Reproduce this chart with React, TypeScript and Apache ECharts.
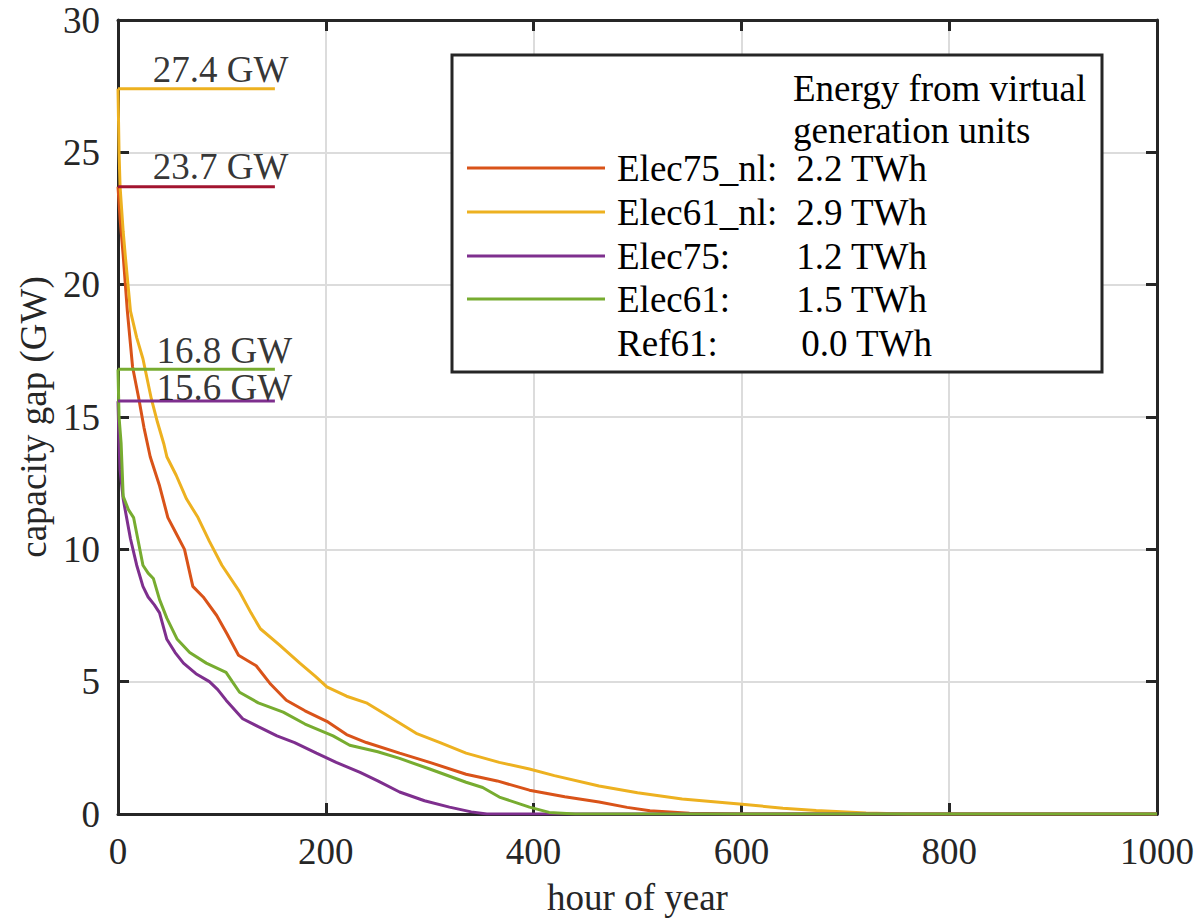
import React, { useEffect, useRef } from "react";
import * as echarts from "echarts";

const FONT = "Liberation Serif";
const FS = 37;

const seriesNames = ["Elec75_nl", "Elec61_nl", "Elec75", "Elec61"];
const seriesColors = ["#D95319", "#EDB120", "#7E2F8E", "#77AC30"];
const legendNames = ["Elec75_nl:", "Elec61_nl:", "Elec75:", "Elec61:", "Ref61:"];
const energyTWh = ["2.2 TWh", "2.9 TWh", "1.2 TWh", "1.5 TWh", "0.0 TWh"];
const xTicks = [0, 200, 400, 600, 800, 1000];
const yTicks = [0, 5, 10, 15, 20, 25, 30];

const elec75nl: [number, number][] = [
  [0, 23.7], [2, 22.5], [5, 21.1], [9, 19], [14, 16.9], [20, 15.7], [25, 14.6], [31, 13.5],
  [40, 12.4], [48, 11.2], [56, 10.6], [64, 10.0], [72, 8.6], [82, 8.2], [95, 7.5], [105, 6.8],
  [116, 6.0], [133, 5.6], [147, 4.9], [162, 4.3], [180, 3.9], [201, 3.5], [220, 3.0], [239, 2.7],
  [271, 2.3], [300, 1.95], [335, 1.5], [365, 1.25], [396, 0.9], [430, 0.65], [463, 0.45],
  [490, 0.25], [512, 0.12], [550, 0.03], [600, 0], [1000, 0],
];
const elec61nl: [number, number][] = [
  [0, 27.4], [1, 25], [2, 23.7], [5, 22], [7, 21.1], [12, 19], [18, 18], [24, 17.2], [32, 15.7],
  [38, 14.8], [44, 14.0], [47, 13.5], [56, 12.8], [66, 11.9], [77, 11.2], [88, 10.3], [100, 9.4],
  [117, 8.4], [128, 7.6], [137, 7.0], [155, 6.4], [175, 5.7], [190, 5.2], [201, 4.8], [220, 4.45],
  [239, 4.2], [260, 3.7], [287, 3.05], [310, 2.7], [335, 2.3], [367, 1.95], [396, 1.7], [420, 1.45],
  [463, 1.06], [500, 0.8], [543, 0.57], [598, 0.38], [640, 0.22], [672, 0.13], [720, 0.04],
  [760, 0], [1000, 0],
];
const elec75: [number, number][] = [
  [0, 15.6], [1, 14], [2, 13], [5, 11.9], [12, 10.4], [18, 9.4], [24, 8.6], [29, 8.2], [35, 7.9],
  [40, 7.6], [47, 6.6], [55, 6.1], [63, 5.7], [75, 5.3], [88, 5.0], [96, 4.7], [104, 4.3],
  [120, 3.6], [135, 3.3], [153, 2.95], [170, 2.7], [191, 2.3], [210, 1.95], [233, 1.57],
  [250, 1.25], [271, 0.83], [295, 0.5], [319, 0.26], [340, 0.08], [355, 0], [1000, 0],
];
const elec61: [number, number][] = [
  [0, 16.8], [1, 15], [3, 14], [4, 13], [5, 12.0], [10, 11.5], [15, 11.2], [20, 10.2], [24, 9.4],
  [29, 9.1], [34, 8.9], [40, 8.1], [47, 7.4], [57, 6.6], [69, 6.1], [85, 5.7], [104, 5.35],
  [110, 5.0], [117, 4.6], [135, 4.2], [159, 3.85], [180, 3.4], [207, 2.95], [223, 2.6],
  [250, 2.35], [271, 2.1], [300, 1.7], [335, 1.2], [351, 1.0], [367, 0.64], [396, 0.26],
  [415, 0.06], [440, 0], [1000, 0],
];
const seriesData = [elec75nl, elec61nl, elec75, elec61];

// peak markers: value, colour, label position (hour, GW)
const peakValues = [27.4, 23.7, 16.8, 15.6];
const peakColors = ["#EDB120", "#A2142F", "#77AC30", "#7E2F8E"];
const peakLabels = ["27.4 GW", "23.7 GW", "16.8 GW", "15.6 GW"];
const peakLabelPos: [number, number][] = [[33.5, 28.12], [33.5, 24.45], [37, 17.5], [37, 16.1]];
const peakEndHour = 151;

export default function App() {
  const ref = useRef<HTMLDivElement>(null);
  useEffect(() => {
    document.body.style.margin = "0";
    const chart = echarts.init(ref.current!, null, { renderer: "svg" });
    const axisColor = "#262626";
    const series: any[] = [];
    seriesData.forEach((d, i) => {
      series.push({
        name: seriesNames[i],
        type: "line",
        data: d,
        showSymbol: false,
        lineStyle: { color: seriesColors[i], width: 3 },
        z: 3,
      });
    });
    peakValues.forEach((p, i) => {
      series.push({
        name: "peak" + i,
        type: "line",
        data: [[0, p], [peakEndHour, p]],
        showSymbol: false,
        lineStyle: { color: peakColors[i], width: 3 },
        z: 4,
      });
    });
    series.push({
      name: "peakLabels",
      type: "scatter",
      symbolSize: 0,
      data: peakLabelPos.map((pos, i) => ({ value: pos, label: { formatter: peakLabels[i] } })),
      label: {
        show: true,
        position: "right",
        distance: 0,
        color: "#000",
        fontFamily: FONT,
        fontSize: FS,
      },
      z: 5,
    });

    const txt = (text: string, x: number, y: number, align: string = "left") => ({
      type: "text",
      x,
      y,
      style: {
        text,
        fontFamily: FONT,
        fontSize: FS,
        fill: "#000",
        align,
        verticalAlign: "middle",
      },
      z: 11,
    });

    // legend graphic
    const lx = 452, ly = 55, lw = 650, lh = 317;
    const rowY = [168, 212, 256, 299, 343];
    const graphic: any[] = [
      {
        type: "rect",
        shape: { x: lx, y: ly, width: lw, height: lh },
        style: { fill: "#fff", stroke: axisColor, lineWidth: 3 },
        z: 10,
      },
      txt("Energy from virtual", 793, 88),
      txt("generation units", 793, 130),
    ];
    legendNames.forEach((n, i) => {
      if (i < seriesColors.length) {
        graphic.push({
          type: "line",
          shape: { x1: 467, y1: rowY[i], x2: 605, y2: rowY[i] },
          style: { stroke: seriesColors[i], lineWidth: 3 },
          z: 11,
        });
      }
      graphic.push(txt(n, 617, rowY[i]));
      graphic.push(txt(energyTWh[i], i === 4 ? 932 : 927, rowY[i], "right"));
    });

    const tickStyle = { show: true, inside: true, length: 11, lineStyle: { color: axisColor, width: 3 } };
    chart.setOption({
      animation: false,
      backgroundColor: "#fff",
      grid: { left: 118, top: 20, right: 39, bottom: 106, containLabel: false },
      xAxis: [
        {
          type: "value",
          min: 0,
          max: 1000,
          interval: 200,
          name: "hour of year",
          nameLocation: "middle",
          nameGap: 65,
          nameTextStyle: { fontFamily: FONT, fontSize: FS, color: "#262626" },
          axisLine: { show: true, onZero: false, lineStyle: { color: axisColor, width: 3 } },
          axisTick: tickStyle,
          axisLabel: {
            fontFamily: FONT,
            fontSize: FS,
            color: "#262626",
            margin: 19,
            formatter: (v: number) => (xTicks.includes(v) ? String(v) : ""),
          },
          splitLine: { show: true, lineStyle: { color: "#dcdcdc", width: 2 } },
        },
        {
          type: "value",
          position: "top",
          min: 0,
          max: 1000,
          interval: 200,
          axisLine: { show: true, onZero: false, lineStyle: { color: axisColor, width: 3 } },
          axisTick: tickStyle,
          axisLabel: { show: false },
          splitLine: { show: false },
        },
      ],
      yAxis: [
        {
          type: "value",
          min: 0,
          max: 30,
          interval: 5,
          name: "capacity gap (GW)",
          nameLocation: "middle",
          nameGap: 63,
          nameTextStyle: { fontFamily: FONT, fontSize: FS, color: "#262626" },
          axisLine: { show: true, onZero: false, lineStyle: { color: axisColor, width: 3 } },
          axisTick: tickStyle,
          axisLabel: {
            fontFamily: FONT,
            fontSize: FS,
            color: "#262626",
            margin: 18,
            formatter: (v: number) => (yTicks.includes(v) ? String(v) : ""),
          },
          splitLine: { show: true, lineStyle: { color: "#dcdcdc", width: 2 } },
        },
        {
          type: "value",
          position: "right",
          min: 0,
          max: 30,
          interval: 5,
          axisLine: { show: true, onZero: false, lineStyle: { color: axisColor, width: 3 } },
          axisTick: tickStyle,
          axisLabel: { show: false },
          splitLine: { show: false },
        },
      ],
      series,
      graphic,
    });
    return () => chart.dispose();
  }, []);
  return <div ref={ref} style={{ width: 1197, height: 921 }} />;
}
